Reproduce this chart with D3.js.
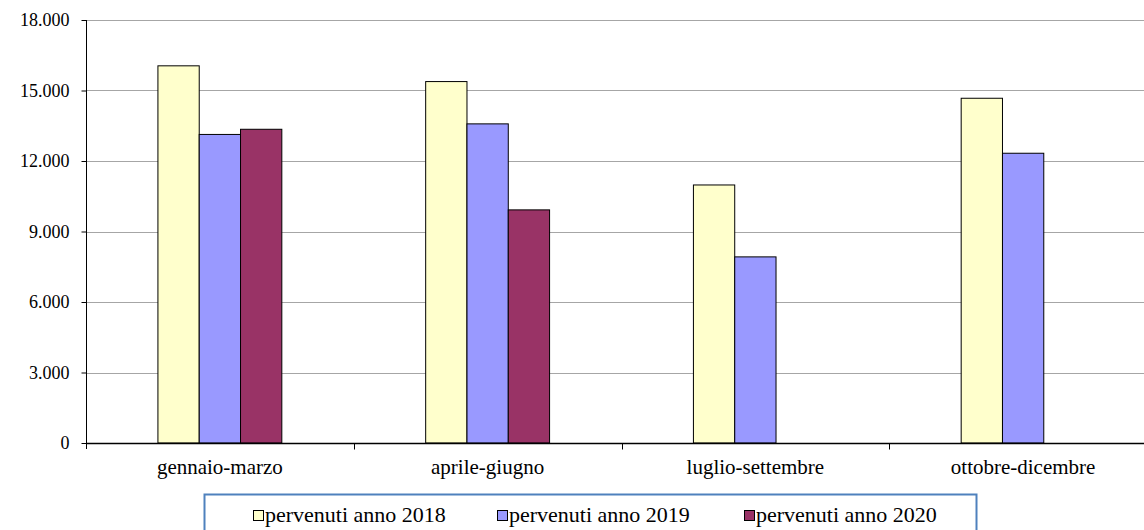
<!DOCTYPE html>
<html><head><meta charset="utf-8">
<script src="https://cdn.jsdelivr.net/npm/d3@7"></script>
<style>
body{margin:0;background:#fff;}
svg{display:block;}
text{font-family:"Liberation Serif","DejaVu Serif",serif;fill:#000;}
</style></head>
<body>
<svg id="c" width="1144" height="530"></svg>
<script>
const categories = ["gennaio-marzo","aprile-giugno","luglio-settembre","ottobre-dicembre"];
const seriesNames = ["pervenuti anno 2018","pervenuti anno 2019","pervenuti anno 2020"];
const values2018 = [16050, 15380, 10980, 14670];
const values2019 = [13130, 13580, 7920, 12330];
const values2020 = [13350, 9920, null, null];
const yTicks = [0,3000,6000,9000,12000,15000,18000];
const colors = ["#FFFFCC","#9999FF","#993366"];

const series = [values2018, values2019, values2020];
const svg = d3.select("#c");
const mLeft = 86, mRight = 1157, mTop = 20, mBottom = 443, visRight = 1144;

const x = d3.scaleBand().domain(categories).range([mLeft, mRight]).paddingInner(0).paddingOuter(0);
const y = d3.scaleLinear().domain([0,18000]).range([mBottom, mTop]);
const barW = 41.3;
const xs = d3.scaleBand().domain(d3.range(3)).range([0, barW*3]);

// grid
svg.append("g").selectAll("line").data(yTicks.filter(d=>d>0)).join("line")
  .attr("x1", mLeft).attr("x2", visRight)
  .attr("y1", d=>Math.round(y(d))+0.5).attr("y2", d=>Math.round(y(d))+0.5)
  .attr("stroke", "#a6a6a6").attr("stroke-width", 1);

// bars
series.forEach((vals, si) => {
  svg.append("g").selectAll("rect").data(categories.map((c,i)=>({c, v: vals[i]})).filter(d=>d.v!=null)).join("rect")
    .attr("x", d => x(d.c) + x.bandwidth()/2 - barW*1.5 + xs(si))
    .attr("y", d => y(d.v))
    .attr("width", barW)
    .attr("height", d => y(0) - y(d.v))
    .attr("fill", colors[si])
    .attr("stroke", "#000").attr("stroke-width", 1);
});

// y axis
const yAxis = d3.axisLeft(y).tickValues(yTicks).tickSize(5).tickPadding(12)
  .tickFormat(d => d3.format(",")(d).replace(/,/g, "."));
const gy = svg.append("g").attr("transform", `translate(${mLeft+0.5},0)`).call(yAxis);
gy.attr("font-family", null).attr("font-size", null);
gy.selectAll("text").attr("font-family", "Liberation Serif").style("font-size", "18px");
gy.selectAll("line").attr("stroke", "#000");
gy.select(".domain").attr("stroke", "#000").attr("d", `M0,${mTop}V${mBottom+6}`);

// x axis
const gx = svg.append("g").attr("transform", `translate(0,${mBottom+0.5})`);
gx.append("line").attr("x1", mLeft).attr("x2", visRight).attr("stroke", "#000").attr("stroke-width", 1.5);
gx.selectAll("line.t").data(categories.slice(1)).join("line").attr("class","t")
  .attr("x1", d=>Math.round(x(d))+0.5).attr("x2", d=>Math.round(x(d))+0.5)
  .attr("y1", 0).attr("y2", 6).attr("stroke", "#000");
gx.selectAll("text").data(categories).join("text")
  .attr("x", d => x(d) + x.bandwidth()/2)
  .attr("y", 30)
  .attr("text-anchor", "middle")
  .style("font-size", "21px")
  .text(d => d);

// legend
const lg = svg.append("g");
lg.append("rect").attr("x", 204.5).attr("y", 494.5).attr("width", 772).attr("height", 50)
  .attr("fill", "#fff").attr("stroke", "#4F81BD").attr("stroke-width", 2);
const legX = [253, 497, 744];
seriesNames.forEach((n, i) => {
  lg.append("rect").attr("x", legX[i]+0.5).attr("y", 510.5).attr("width", 10).attr("height", 10)
    .attr("fill", colors[i]).attr("stroke", "#000").attr("stroke-width", 1);
  lg.append("text").attr("x", legX[i]+12).attr("y", 522).style("font-size", "22px").text(n);
});
</script>
</body></html>
